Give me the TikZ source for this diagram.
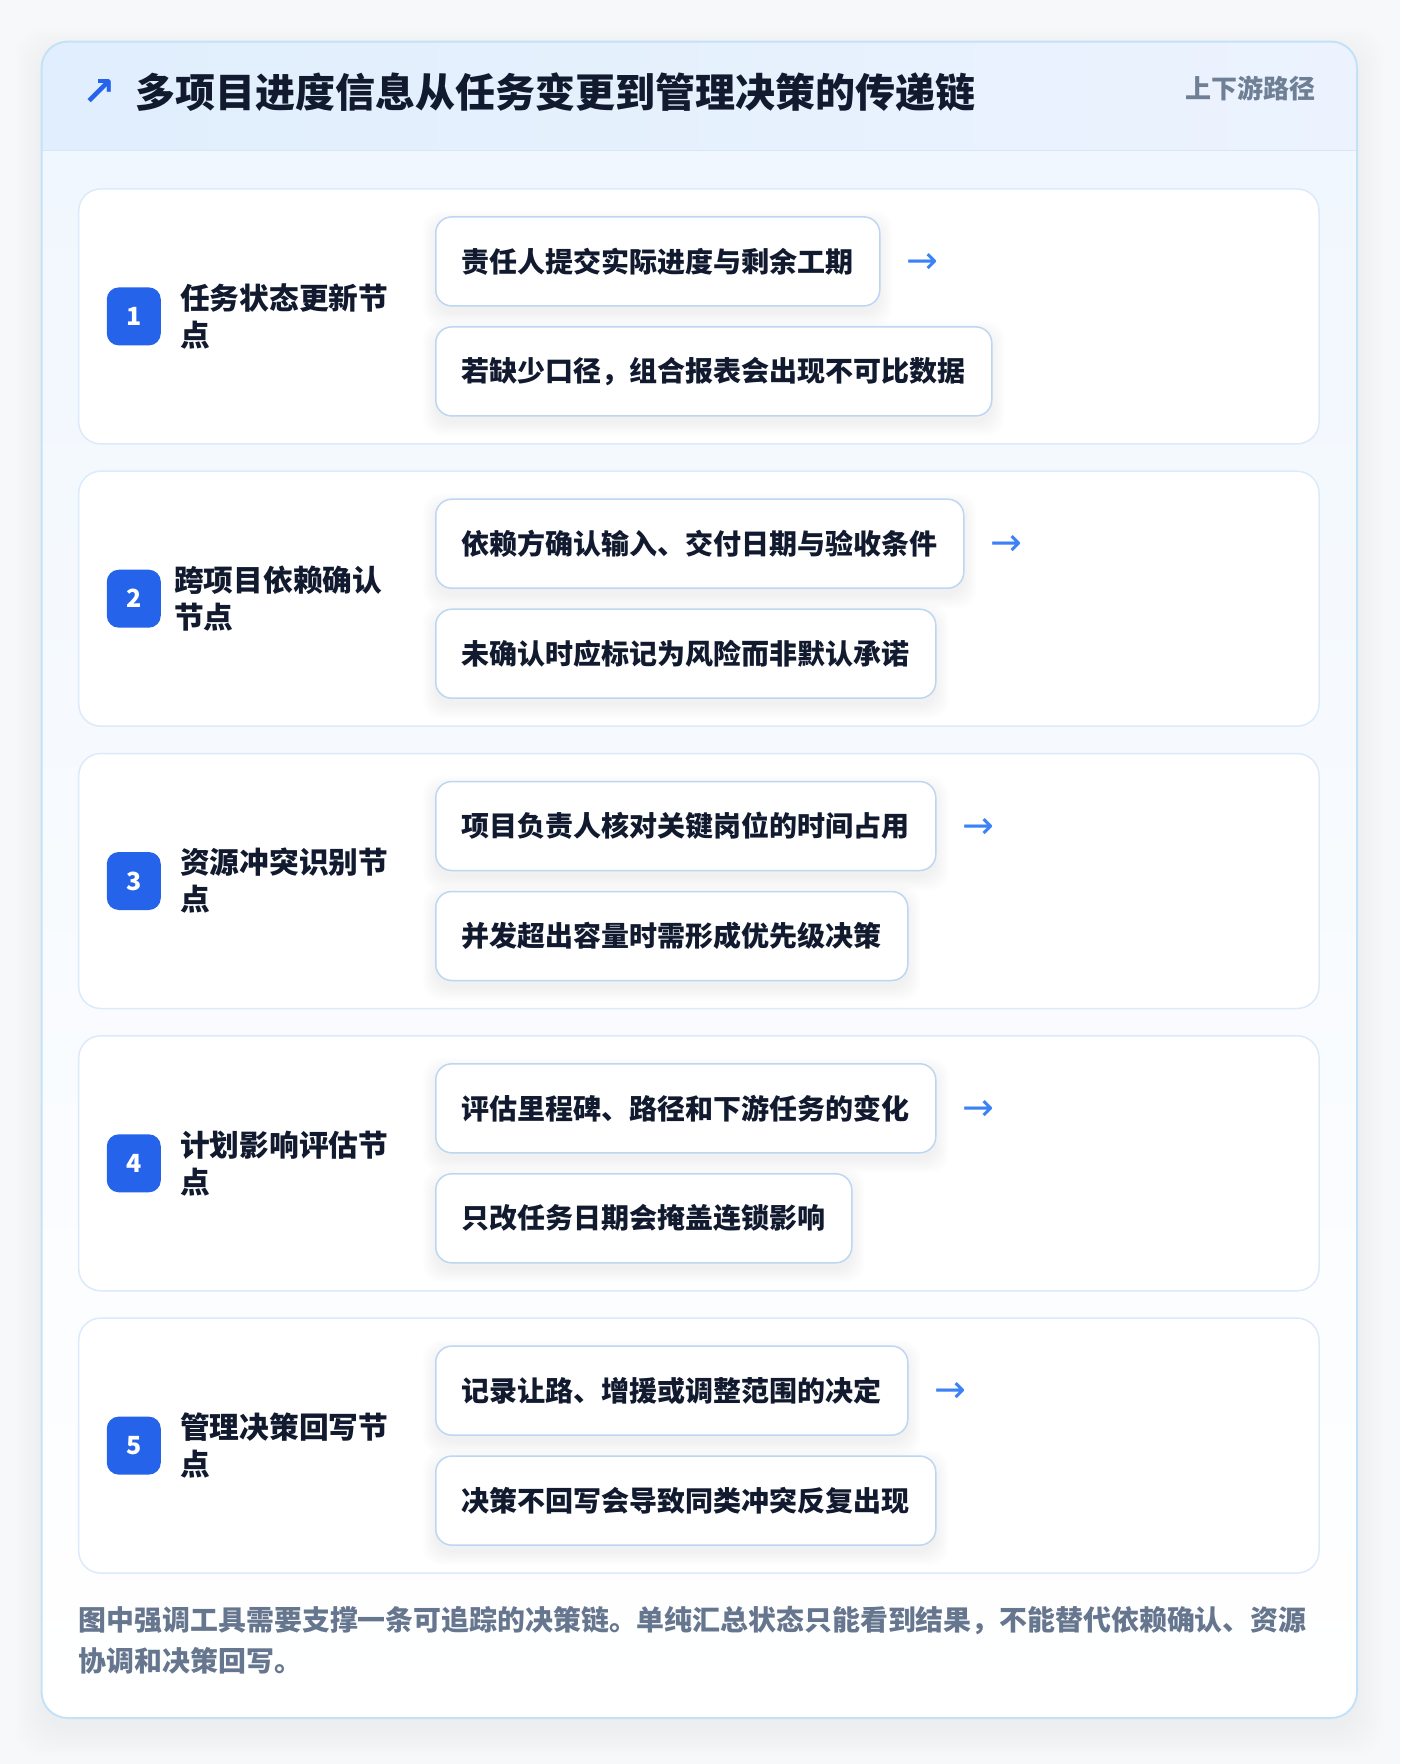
\documentclass[tikz,border=0pt]{standalone}
\usepackage{fontspec}
\setmainfont{Noto Sans CJK SC}
\newfontfamily\symfont{DejaVu Sans}
\definecolor{pagebg}{HTML}{F7F8FA}
\definecolor{cardline}{HTML}{C4E2F7}
\definecolor{headA}{HTML}{E0EEFD}
\definecolor{headB}{HTML}{ECF3FE}
\definecolor{headline}{HTML}{D8E7F8}
\definecolor{bodytop}{HTML}{F1F7FE}
\definecolor{stepline}{HTML}{DCEAFB}
\definecolor{badgeblue}{HTML}{2563EB}
\definecolor{boxline}{HTML}{BDD6F2}
\definecolor{inkdark}{HTML}{111A2E}
\definecolor{arrowblue}{HTML}{3B82F6}
\definecolor{footgray}{HTML}{66768F}
\definecolor{labelgray}{HTML}{6F7F95}
\pgfdeclarelayer{backlayer}
\pgfdeclarelayer{shadowlayer}
\pgfsetlayers{backlayer,shadowlayer,main}
% soft shadow under a named task box
\newcommand\taskshadow[1]{%
  \begin{pgfonlayer}{shadowlayer}
    \foreach \s [evaluate=\s as \b using -\s-7, evaluate=\s as \t using \s-7] in {0,2,...,12}
      \fill[black, opacity=0.007, rounded corners=18pt]
        ([shift={(-\s,\b)}]#1.south west) rectangle ([shift={(\s,\t)}]#1.north east);
  \end{pgfonlayer}}
\begin{document}
\begin{tikzpicture}[x=1pt, y=1pt,
    stepcard/.style={draw=stepline, line width=1.5pt, fill=white, rounded corners=22pt},
    badge/.style={fill=badgeblue, text=white, rounded corners=12pt, minimum width=54pt,
      minimum height=58pt, inner sep=0pt, font=\fontsize{25}{25}\selectfont\bfseries},
    steptitle/.style={anchor=west, align=left, inner sep=0pt, text=inkdark,
      font=\fontsize{29.7}{37}\selectfont\bfseries},
    taskbox/.style={anchor=west, draw=boxline, line width=1.5pt, fill=white,
      rounded corners=16pt, minimum height=89pt, inner xsep=26pt, inner ysep=0pt,
      text=inkdark, font=\fontsize{28}{28}\selectfont\bfseries},
    flowarrow/.style={inner sep=0pt, text=arrowblue, font=\symfont\fontsize{38}{38}\selectfont}]
  \useasboundingbox (0,0) rectangle (1400,-1764);
  \begin{pgfonlayer}{backlayer}
    % PAGE
    \fill[pagebg] (0,0) rectangle (1400,-1764);
    % -- outer card shadow
    \foreach \s [evaluate=\s as \b using -\s-12, evaluate=\s as \t using \s-12] in {0,3,...,27}
      \fill[black, opacity=0.005, rounded corners=30pt]
        (41.6-\s,-41.6+\t) rectangle (1357+\s,-1718+\b);
    % -- outer card
    \fill[white, rounded corners=26pt] (41.6,-41.6) rectangle (1357,-1718);
    \begin{scope}
      \clip[rounded corners=26pt] (41.6,-41.6) rectangle (1357,-1718);
      \shade[left color=headA, right color=headB] (41.6,-41.6) rectangle (1357,-150.7);
      \shade[top color=bodytop, bottom color=white] (41.6,-150.7) rectangle (1357,-1718);
    \end{scope}
    \draw[headline, line width=1.5pt] (41.6,-150.7) -- (1357,-150.7);
    \draw[cardline, line width=2pt, rounded corners=26pt] (41.6,-41.6) rectangle (1357,-1718);
    % -- step cards
    \draw[stepcard] (78.7,-188.9) rectangle (1319,-443.9);
    \draw[stepcard] (78.7,-471.2) rectangle (1319,-726.2);
    \draw[stepcard] (78.7,-753.5) rectangle (1319,-1008.5);
    \draw[stepcard] (78.7,-1035.8) rectangle (1319,-1290.8);
    \draw[stepcard] (78.7,-1318.1) rectangle (1319,-1573.1);
  \end{pgfonlayer}
  % HEADER
  \node[inner sep=0pt, text=badgeblue, font=\symfont\bfseries\fontsize{40}{40}\selectfont]
    (headarrow) at (99,-93) {↗};
  \node[anchor=west, inner sep=0pt, text=inkdark, font=\fontsize{40}{40}\selectfont\bfseries]
    (headtitle) at (135,-92) {多项目进度信息从任务变更到管理决策的传递链};
  \node[anchor=east, inner sep=0pt, text=labelgray, font=\fontsize{26}{26}\selectfont\bfseries]
    (headtag) at (1316,-88) {上下游路径};
  % CARD 1
  \node[badge] (badge1) at (133.8,-316.4) {1};
  \node[steptitle] (title1) at (180,-316.4) {任务状态更新节\\点};
  \node[taskbox] (task1a) at (435,-261.4) {责任人提交实际进度与剩余工期};
  \node[taskbox] (task1b) at (435,-371.4) {若缺少口径，组合报表会出现不可比数据};
  \node[flowarrow] (arrow1) at ([xshift=42pt, yshift=-2pt]task1a.east) {→};
  \taskshadow{task1a} \taskshadow{task1b}
  % CARD 2
  \node[badge] (badge2) at (133.8,-598.7) {2};
  \node[steptitle] (title2) at (174,-598.7) {跨项目依赖确认\\节点};
  \node[taskbox] (task2a) at (435,-543.7) {依赖方确认输入、交付日期与验收条件};
  \node[taskbox] (task2b) at (435,-653.7) {未确认时应标记为风险而非默认承诺};
  \node[flowarrow] (arrow2) at ([xshift=42pt, yshift=-2pt]task2a.east) {→};
  \taskshadow{task2a} \taskshadow{task2b}
  % CARD 3
  \node[badge] (badge3) at (133.8,-881) {3};
  \node[steptitle] (title3) at (180,-881) {资源冲突识别节\\点};
  \node[taskbox] (task3a) at (435,-826) {项目负责人核对关键岗位的时间占用};
  \node[taskbox] (task3b) at (435,-936) {并发超出容量时需形成优先级决策};
  \node[flowarrow] (arrow3) at ([xshift=42pt, yshift=-2pt]task3a.east) {→};
  \taskshadow{task3a} \taskshadow{task3b}
  % CARD 4
  \node[badge] (badge4) at (133.8,-1163.3) {4};
  \node[steptitle] (title4) at (180,-1163.3) {计划影响评估节\\点};
  \node[taskbox] (task4a) at (435,-1108.3) {评估里程碑、路径和下游任务的变化};
  \node[taskbox] (task4b) at (435,-1218.3) {只改任务日期会掩盖连锁影响};
  \node[flowarrow] (arrow4) at ([xshift=42pt, yshift=-2pt]task4a.east) {→};
  \taskshadow{task4a} \taskshadow{task4b}
  % CARD 5
  \node[badge] (badge5) at (133.8,-1445.6) {5};
  \node[steptitle] (title5) at (180,-1445.6) {管理决策回写节\\点};
  \node[taskbox] (task5a) at (435,-1390.6) {记录让路、增援或调整范围的决定};
  \node[taskbox] (task5b) at (435,-1500.6) {决策不回写会导致同类冲突反复出现};
  \node[flowarrow] (arrow5) at ([xshift=42pt, yshift=-2pt]task5a.east) {→};
  \taskshadow{task5a} \taskshadow{task5b}
  % FOOTER
  \node[anchor=west, align=left, inner sep=0pt, text=footgray,
    font=\fontsize{27.9}{41}\selectfont\bfseries] (footnote) at (78.7,-1640.5)
    {图中强调工具需要支撑一条可追踪的决策链。单纯汇总状态只能看到结果，不能替代依赖确认、资源\\协调和决策回写。};
\end{tikzpicture}
\end{document}
